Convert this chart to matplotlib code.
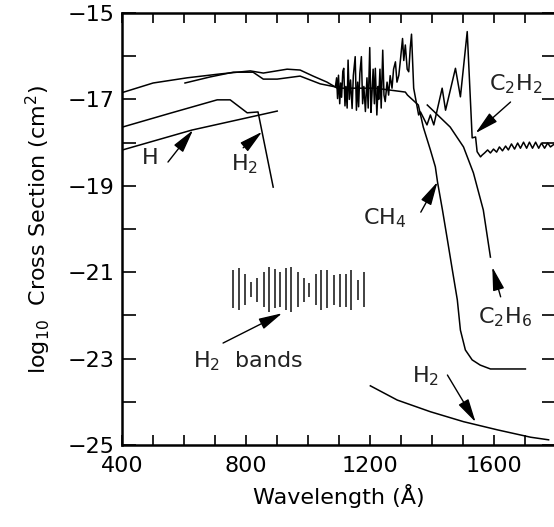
import matplotlib.pyplot as plt
from matplotlib.ticker import MultipleLocator

# --- data (wavelength in Angstrom, log10 cross section) ---

# H photoionization
h_wl = [400, 624, 900]
h_xs = [-18.17, -17.71, -17.27]

# H2 (upper, with the drop near 850 A)
h2_wl = [400, 554, 706, 748, 770, 803, 838, 887]
h2_xs = [-17.64, -17.32, -17.01, -17.01, -17.13, -17.31, -17.29, -19.03]

# CH4
ch4_wl = [400, 499, 609, 716, 813, 855, 932, 974, 1016, 1061, 1094, 1217, 1314,
          1321, 1356, 1372, 1395, 1411, 1418, 1434, 1450, 1466, 1482, 1492, 1508,
          1530, 1556, 1589, 1702]
ch4_xs = [-16.84, -16.62, -16.50, -16.41, -16.34, -16.39, -16.30, -16.32, -16.46,
          -16.60, -16.74, -16.74, -16.83, -16.90, -17.13, -17.64, -18.17, -18.56,
          -18.91, -19.56, -20.25, -20.95, -21.64, -22.34, -22.80, -23.03, -23.15,
          -23.24, -23.24]

# C2H2 (bands, peaks, and tail)
c2h2_wl = [602, 683, 758, 822, 855, 900, 974, 1039,
           1088, 1092, 1095, 1098, 1102, 1105, 1108, 1112, 1115, 1119, 1122, 1126,
           1129, 1133, 1137, 1142, 1146, 1152, 1156, 1160, 1163, 1167, 1172, 1176,
           1180, 1185, 1190, 1194, 1199, 1203, 1206, 1210, 1214, 1217, 1222, 1226,
           1228, 1232, 1236, 1241, 1245, 1249, 1255, 1260, 1265, 1271, 1276, 1282,
           1287, 1293, 1298, 1305, 1309, 1314, 1320, 1325, 1330, 1334, 1338, 1341,
           1357, 1363, 1384, 1395, 1406, 1433, 1444, 1476, 1492, 1514, 1530, 1541,
           1546, 1557, 1562,
           1570, 1580, 1589, 1599, 1609, 1618, 1628, 1638, 1647, 1657, 1667, 1677,
           1686, 1696, 1706, 1715, 1725, 1735, 1745, 1754, 1764, 1774, 1783, 1796]
c2h2_xs = [-16.62, -16.48, -16.37, -16.37, -16.53, -16.53, -16.46, -16.64,
           -16.71, -16.50, -16.98, -16.44, -17.10, -16.62, -16.95, -16.35, -16.28,
           -17.15, -16.70, -17.20, -16.09, -17.00, -16.55, -17.21, -16.45, -16.01,
           -17.25, -16.60, -17.17, -16.40, -16.01, -17.10, -16.70, -17.28, -16.50,
           -17.20, -15.80, -17.30, -16.90, -16.30, -17.10, -16.28, -17.36, -16.70,
           -17.00, -16.30, -17.20, -15.86, -16.90, -17.05, -16.60, -16.90, -16.45,
           -16.74, -16.30, -16.13, -16.60, -16.44, -16.10, -15.59, -16.10, -15.74,
           -16.30, -16.36, -15.80, -15.49, -16.20, -16.74,
           -17.36, -17.29, -17.59, -17.36, -17.59, -16.74, -17.25, -16.28, -16.94,
           -15.43, -17.89, -17.87, -18.21, -18.33, -18.29,
           -18.24, -18.17, -18.24, -18.15, -18.22, -18.10, -18.19, -18.08, -18.17,
           -18.03, -18.15, -18.01, -18.13, -17.99, -18.13, -17.99, -18.13, -17.99,
           -18.13, -18.01, -18.13, -18.01, -18.10, -18.03]

# C2H6
c2h6_wl = [1385, 1459, 1502, 1534, 1566, 1589]
c2h6_xs = [-17.13, -17.64, -18.10, -18.70, -19.56, -20.65]

# H2 continuum (bottom)
h2low_wl = [1201, 1288, 1395, 1502, 1612, 1719, 1777]
h2low_xs = [-23.63, -23.96, -24.23, -24.46, -24.65, -24.82, -24.88]

# H2 bands (vertical bars)
band_wl = [757, 777, 796, 816, 836, 856, 875, 893, 910, 927, 945, 966, 985, 1004,
           1024, 1042, 1062, 1082, 1102, 1121, 1140, 1161, 1181]
band_top = [-20.95, -20.91, -21.03, -21.22, -21.14, -20.99, -20.89, -20.93, -20.99,
            -20.91, -20.89, -20.99, -21.14, -21.24, -21.03, -20.95, -20.96, -21.07,
            -21.03, -21.03, -20.95, -21.18, -21.00]
band_bot = [-21.84, -21.88, -21.76, -21.57, -21.68, -21.80, -21.91, -21.84, -21.80,
            -21.88, -21.91, -21.80, -21.68, -21.57, -21.76, -21.88, -21.84, -21.76,
            -21.80, -21.80, -21.88, -21.64, -21.80]

# labels: (text, text pos, arrow tail, arrow tip)
labels = [
    ("H", (489, -18.35), (547, -18.45), (628, -17.71)),
    ("H$_2$", (795, -18.50), (790, -18.12), (851, -17.75)),
    ("CH$_4$", (1249, -19.75), (1364, -19.61), (1418, -18.91)),
    ("C$_2$H$_6$", (1635, -22.03), (1622, -21.57), (1595, -20.88)),
    ("C$_2$H$_2$", (1670, -16.64), (1654, -17.06), (1541, -17.78)),
    ("H$_2$  bands", (806, -23.06), (725, -22.64), (916, -21.95)),
    ("H$_2$", (1379, -23.40), (1450, -23.38), (1541, -24.47)),
]

plt.rcParams['mathtext.default'] = 'regular'
fig = plt.figure(figsize=(5.54, 5.27), dpi=100)
ax = fig.add_axes([0.2211, 0.1556, 0.782, 0.8197])

lw = 1.1
ax.plot(h_wl, h_xs, 'k', lw=lw)
ax.plot(h2_wl, h2_xs, 'k', lw=lw)
ax.plot(ch4_wl, ch4_xs, 'k', lw=lw)
ax.plot(c2h2_wl, c2h2_xs, 'k', lw=lw)
ax.plot(c2h6_wl, c2h6_xs, 'k', lw=lw)
ax.plot(h2low_wl, h2low_xs, 'k', lw=lw)
ax.vlines(band_wl, band_bot, band_top, colors='#333333', lw=1.3)

for txt, pos, tail, tip in labels:
    ax.text(pos[0], pos[1], txt, fontsize=16, ha='center', va='center', color='#222222')
    ax.annotate('', xy=tip, xytext=tail,
                arrowprops=dict(arrowstyle='-|>,head_length=0.9,head_width=0.22',
                                color='black', lw=1.0, shrinkA=0, shrinkB=0,
                                mutation_scale=16))

ax.set_xlim(400, 1800)
ax.set_ylim(-25, -15)
ax.xaxis.set_major_locator(MultipleLocator(400))
ax.xaxis.set_minor_locator(MultipleLocator(100))
ax.yaxis.set_minor_locator(MultipleLocator(1))
ax.set_yticks([-15, -17, -19, -21, -23, -25])
ax.tick_params(which='both', direction='in', top=True, right=True, width=1.2,
               labelsize=16, colors='black')
ax.tick_params(axis='x', which='both', length=7, pad=8)
ax.tick_params(axis='y', which='both', length=10, pad=6)
for s in ax.spines.values():
    s.set_linewidth(1.8)

ax.set_xlabel('Wavelength (Å)', fontsize=16, labelpad=6)
ax.set_ylabel('log$_{10}$  Cross Section (cm$^2$)', fontsize=16, labelpad=10)

fig.savefig('out.png', dpi=100)
